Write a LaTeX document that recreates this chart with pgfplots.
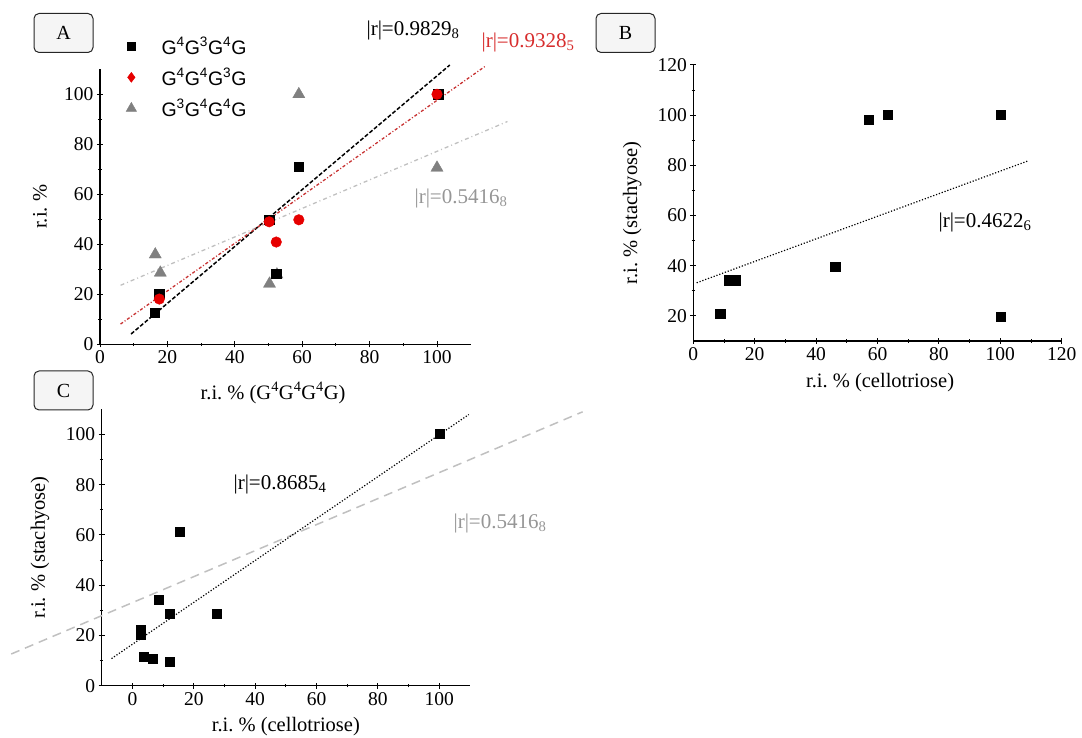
\documentclass[border=0pt]{standalone}
\usepackage{fontspec}
\setmainfont{Liberation Serif}
\newfontfamily\legfont{Liberation Sans}
\usepackage{pgfplots}
\pgfplotsset{compat=1.18}

\definecolor{redpt}{RGB}{230,0,0}
\definecolor{redfit}{RGB}{200,50,50}
\definecolor{grypt}{RGB}{128,128,128}
\definecolor{gryfit}{RGB}{192,192,192}
\definecolor{redtxt}{RGB}{215,45,45}
\definecolor{grytxt}{RGB}{150,150,150}

\pgfplotsset{
  panel/.style={
    scale only axis, axis lines*=left, axis line style={-, line width=1.2pt},
    tick align=center, major tick length=6pt, minor tick length=3.5pt,
    every tick/.style={black, line width=1pt},
    minor tick num=1,
    tick label style={font=\fontsize{19.5}{21}\selectfont},
    label style={font=\fontsize{20.5}{23}\selectfont},
    /pgf/number format/assume math mode=true,
    clip=false,
  },
}

\begin{document}
\begin{tikzpicture}[x=1pt,y=1pt]
\useasboundingbox (0,0) rectangle (1082,738);

% ---- A
\begin{axis}[panel, at={(100pt,393.7pt)}, anchor=south west, width=370.7pt, height=275pt,
  xmin=0, xmax=110, ymin=0, ymax=110, xtick={0,20,...,100}, ytick={0,20,...,100},
  xlabel={r.i.\ \% (G\textsuperscript{4}G\textsuperscript{4}G\textsuperscript{4}G)},
  ylabel={r.i.\ \%},
  xlabel style={at={(axis description cs:0.467,-0.177)}, anchor=center},
  ylabel style={at={(axis description cs:-0.162,0.5)}, anchor=center},
  legend cell align=left,
  legend style={at={(axis description cs:0.070,1.1255)}, anchor=north west,
    draw=none, fill=none, inner sep=0pt, row sep=8.5pt,
    font=\legfont\fontsize{19.5}{22}\selectfont,
    /tikz/every odd column/.append style={column sep=23pt}}]
\addlegendimage{only marks, mark=square*, black, mark size=3.8pt}
\addlegendentry{G\textsuperscript{4}G\textsuperscript{3}G\textsuperscript{4}G}
\addlegendimage{only marks, mark=diamond*, redpt, mark size=5pt}
\addlegendentry{G\textsuperscript{4}G\textsuperscript{4}G\textsuperscript{3}G}
\addlegendimage{only marks, mark=triangle*, grypt, mark size=6pt}
\addlegendentry{G\textsuperscript{3}G\textsuperscript{4}G\textsuperscript{4}G}
% fitted lines
\addplot[forget plot, gryfit, line width=1.3pt, dash pattern=on 4pt off 3pt on 1pt off 3pt]
  coordinates {(6.1,23.6) (120.9,89.1)};
\addplot[forget plot, black, line width=1.5pt, dash pattern=on 4pt off 2pt]
  coordinates {(9.2,4.1) (103.8,111.7)};
\addplot[forget plot, redfit, line width=1.3pt, dash pattern=on 3pt off 2pt on 1pt off 2pt]
  coordinates {(6.1,8.1) (114.4,111.3)};
% points
\addplot[forget plot, only marks, mark=triangle*, grypt, mark size=7pt]
  coordinates {(16.4,35.9) (17.9,28.6) (50.3,24.2) (52.5,27.9) (59,100) (100,70.6)};
\addplot[forget plot, only marks, mark=square*, black, mark size=4.7pt]
  coordinates {(16.3,12.6) (17.6,20.3) (50.2,49.8) (52.3,28.2) (59.0,71.1) (100.4,100)};
\addplot[forget plot, only marks, mark=*, redpt, mark size=5.3pt]
  coordinates {(17.6,18.1) (50.2,49.0) (52.3,40.9) (59.0,49.8) (100,100)};
\end{axis}

% ---- B
\begin{axis}[panel, at={(693.3pt,397pt)}, anchor=south west, width=368.4pt, height=276pt,
  xmin=0, xmax=120, ymin=10, ymax=120, xtick={0,20,...,120}, ytick={20,40,...,120},
  xlabel={r.i.\ \% (cellotriose)}, ylabel={r.i.\ \% (stachyose)},
  xlabel style={at={(axis description cs:0.507,-0.149)}, anchor=center},
  ylabel style={at={(axis description cs:-0.166,0.464)}, anchor=center}]
\addplot[black, line width=1.2pt, dash pattern=on 1.2pt off 1.8pt]
  coordinates {(1.1,33.2) (109.1,81.8)};
\addplot[only marks, mark=square*, black, mark size=4.7pt]
  coordinates {(8.7,20.9) (11.7,34.2) (13.6,34.2) (46.2,39.5) (57.1,98.3) (63.3,100.2) (100.1,100.2) (100.1,19.7)};
\end{axis}

% ---- C
\begin{axis}[panel, at={(101.7pt,52.3pt)}, anchor=south west, width=368.3pt, height=276.4pt,
  xmin=-10, xmax=110, ymin=0, ymax=110, xtick={0,20,...,100}, ytick={0,20,...,100},
  xlabel={r.i.\ \% (cellotriose)}, ylabel={r.i.\ \% (stachyose)},
  xlabel style={at={(axis description cs:0.5,-0.149)}, anchor=center},
  ylabel style={at={(axis description cs:-0.1675,0.5)}, anchor=center}]
\addplot[gryfit, line width=1.5pt, dash pattern=on 9pt off 6pt]
  coordinates {(-39.5,12.6) (146.7,109)};
\addplot[black, line width=1.2pt, dash pattern=on 1.2pt off 1.8pt]
  coordinates {(-6.8,10.8) (109.6,107.9)};
\addplot[only marks, mark=square*, black, mark size=4.5pt]
  coordinates {(2.6,22.1) (2.6,20.3) (3.8,11.5) (6.5,10.6) (12,9.6) (8.7,34.3) (12,28.7) (15.5,61.2) (27.6,28.5) (100,100.1)};
\end{axis}

% ---- correlation labels
\begin{scope}[every node/.style={font=\fontsize{21}{24}\selectfont, inner sep=0pt}]
\node at (413,708) {|r|=0.9829\textsubscript{8}};
\node[text=redtxt] at (528,696) {|r|=0.9328\textsubscript{5}};
\node[text=grytxt] at (461,540) {|r|=0.5416\textsubscript{8}};
\node at (985,516) {|r|=0.4622\textsubscript{6}};
\node at (280,254) {|r|=0.8685\textsubscript{4}};
\node[text=grytxt] at (500,215) {|r|=0.5416\textsubscript{8}};
\end{scope}

% ---- panel tags
\begin{scope}[every node/.style={font=\fontsize{20}{22}\selectfont}]
\draw[rounded corners=5pt, fill=black!4, draw=black!85, line width=1pt] (34,724.5) rectangle (93,685.5);
\node at (63.5,705) {A};
\draw[rounded corners=5pt, fill=black!4, draw=black!85, line width=1pt] (596,724.5) rectangle (655,685.5);
\node at (625.5,705) {B};
\draw[rounded corners=5pt, fill=black!4, draw=black!85, line width=1pt] (34,367) rectangle (93,328);
\node at (63.5,347.5) {C};
\end{scope}
\end{tikzpicture}
\end{document}
